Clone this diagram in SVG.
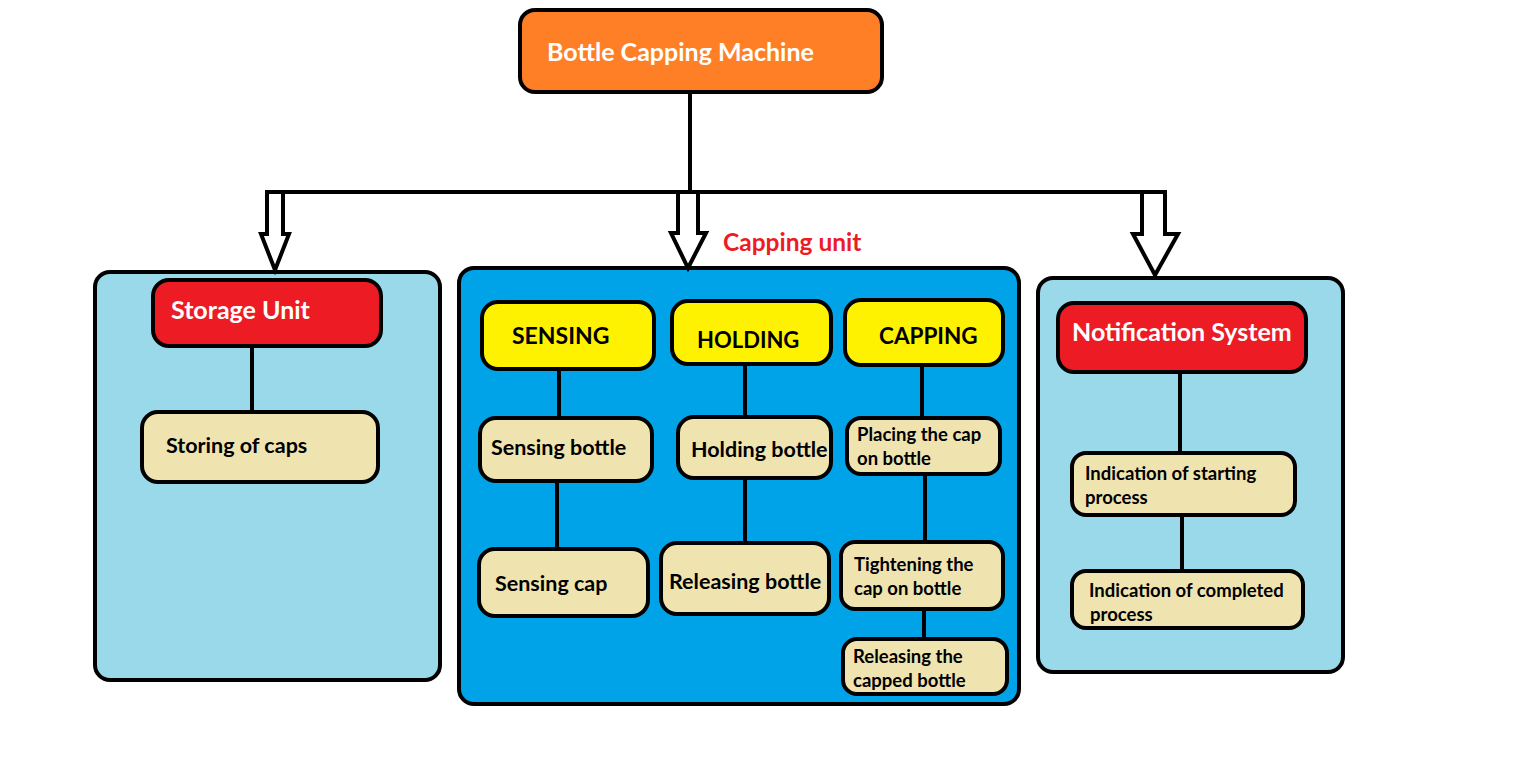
<svg xmlns="http://www.w3.org/2000/svg" width="1530" height="759" viewBox="0 0 1530 759">
<style>
.box{stroke:#000;stroke-width:4}
.cont{stroke:#000;stroke-width:4}
.ln{stroke:#000;stroke-width:4;fill:none}
.arr{fill:#fff;stroke:#000;stroke-width:4;stroke-linejoin:miter}
text{font-family:Lato,"Liberation Sans",sans-serif;font-weight:bold}
.w{fill:#fff}
.k{fill:#000}
.red{fill:#ed1c24}
.yel{fill:#fff200}
.tan{fill:#efe4b0}
.lb{fill:#99d9ea}
.db{fill:#00a2e8}
.big{font-size:25px}
.med{font-size:21.5px}
.sm{font-size:18.5px}
</style>
<rect width="1530" height="759" fill="#fff"/>
<g id="storage-container"><rect class="cont lb" x="95" y="272" width="345" height="408" rx="15"/></g>
<g id="capping-container"><rect class="cont db" x="459" y="268" width="560" height="436" rx="15"/></g>
<g id="notification-container"><rect class="cont lb" x="1038" y="278" width="305" height="394" rx="15"/></g>
<g id="connectors">
<line class="ln" x1="690" y1="92" x2="690" y2="192"/>
<line class="ln" x1="268" y1="192" x2="1165" y2="192"/>
<polygon class="arr" points="267,192 283,192 283,234 289,234 275,270 261,234 267,234"/>
<polygon class="arr" points="678,192 698,192 698,233 706,233 688,268 671,233 678,233"/>
<polygon class="arr" points="1142,192 1165,192 1165,234 1178,234 1155,275 1133,234 1142,234"/>
<line class="ln" x1="252" y1="346" x2="252" y2="412"/>
<line class="ln" x1="559" y1="369" x2="559" y2="418"/>
<line class="ln" x1="557" y1="481" x2="557" y2="547"/>
<line class="ln" x1="745" y1="364" x2="745" y2="417"/>
<line class="ln" x1="745" y1="478" x2="745" y2="542"/>
<line class="ln" x1="922" y1="365" x2="922" y2="418"/>
<line class="ln" x1="925" y1="474" x2="925" y2="542"/>
<line class="ln" x1="924" y1="609" x2="924" y2="639"/>
<line class="ln" x1="1180" y1="372" x2="1180" y2="453"/>
<line class="ln" x1="1182" y1="515" x2="1182" y2="571"/>
</g>
<g id="capping-unit-label"><text x="723" y="251" class="red" font-size="24.5">Capping unit</text></g>
<g id="main"><rect class="box" x="520" y="10" width="362" height="82" rx="15" fill="#ff7f27"/><text x="547" y="61" class="w big">Bottle Capping Machine</text></g>
<g id="storage-unit"><rect class="box red" x="153" y="280" width="228" height="66" rx="16"/><text x="171" y="319" class="w big">Storage Unit</text></g>
<g id="storing-caps"><rect class="box tan" x="142" y="412" width="236" height="70" rx="16"/><text x="166" y="453" class="k med">Storing of caps</text></g>
<g id="sensing"><rect class="box yel" x="482" y="302" width="172" height="67" rx="16"/><text x="512" y="344" class="k" font-size="23">SENSING</text></g>
<g id="holding"><rect class="box yel" x="672" y="301" width="159" height="63" rx="16"/><text x="697" y="348" class="k" font-size="22">HOLDING</text></g>
<g id="capping"><rect class="box yel" x="845" y="300" width="158" height="65" rx="16"/><text x="879" y="344" class="k" font-size="22.5">CAPPING</text></g>
<g id="sensing-bottle"><rect class="box tan" x="480" y="418" width="172" height="63" rx="16"/><text x="491" y="455" class="k med">Sensing bottle</text></g>
<g id="sensing-cap"><rect class="box tan" x="479" y="549" width="169" height="67" rx="16"/><text x="495" y="591" class="k med">Sensing cap</text></g>
<g id="holding-bottle"><rect class="box tan" x="678" y="417" width="153" height="61" rx="16"/><text x="691" y="457" class="k med">Holding bottle</text></g>
<g id="releasing-bottle"><rect class="box tan" x="661" y="543" width="168" height="71" rx="16"/><text x="669" y="589" class="k med">Releasing bottle</text></g>
<g id="placing-cap"><rect class="box tan" x="847" y="418" width="153" height="56" rx="14"/><text x="857" y="441" class="k sm">Placing the cap</text><text x="857" y="465" class="k sm">on bottle</text></g>
<g id="tightening-cap"><rect class="box tan" x="841" y="542" width="162" height="67" rx="14"/><text x="854" y="571" class="k sm">Tightening the</text><text x="854" y="595" class="k sm">cap on bottle</text></g>
<g id="releasing-capped"><rect class="box tan" x="843" y="639" width="164" height="55" rx="14"/><text x="853" y="663" class="k sm">Releasing the</text><text x="853" y="687" class="k sm">capped bottle</text></g>
<g id="notification-system"><rect class="box red" x="1058" y="303" width="248" height="69" rx="16"/><text x="1072" y="341" class="w big">Notification System</text></g>
<g id="indication-start"><rect class="box tan" x="1072" y="453" width="223" height="62" rx="14"/><text x="1085" y="480" class="k sm">Indication of starting</text><text x="1085" y="504" class="k sm">process</text></g>
<g id="indication-complete"><rect class="box tan" x="1072" y="571" width="231" height="57" rx="14"/><text x="1089" y="597" class="k sm">Indication of completed</text><text x="1090" y="621" class="k sm">process</text></g>
</svg>
